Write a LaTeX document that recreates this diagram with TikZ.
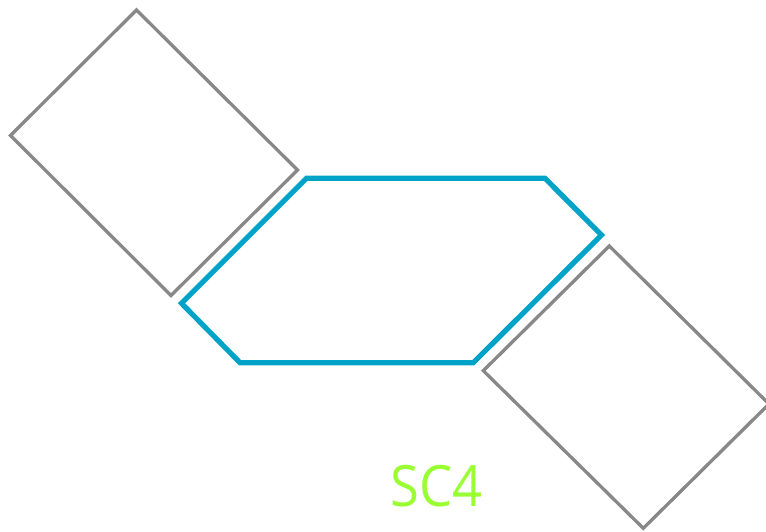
\documentclass[tikz,border=0pt]{standalone}
\usepackage{fontspec}
\setmainfont{Open Sans}
\definecolor{rectgray}{RGB}{136,136,136}
\definecolor{hexblue}{RGB}{0,163,200}
\definecolor{labelgreen}{RGB}{153,255,51}
\begin{document}
\begin{tikzpicture}[x=1pt,y=-1pt,
  graybox/.style={draw=rectgray,line width=3.3pt,line join=miter},
  bluehex/.style={draw=hexblue,line width=5.2pt,line join=miter},
  sclabel/.style={text=labelgreen,font=\fontsize{57}{60}\selectfont,inner sep=0pt,xscale=0.92}]
\useasboundingbox (0,0) rectangle (766,532);
\clip (0,0) rectangle (766,532);
\draw[graybox] (136.5,10) -- (297.5,170) -- (171,295.5) -- (10.5,135.5) -- cycle;
\draw[bluehex] (306.5,178.3) -- (545,178.3) -- (601.5,235) -- (473.3,362.7) -- (240,362.7) -- (181.5,303.3) -- cycle;
\draw[graybox] (609.3,246) -- (769,404) -- (643.3,528.3) -- (483.3,370.7) -- cycle;
\node[sclabel,anchor=base] (sc4) at (436.5,506.5) {SC4};
\end{tikzpicture}
\end{document}
